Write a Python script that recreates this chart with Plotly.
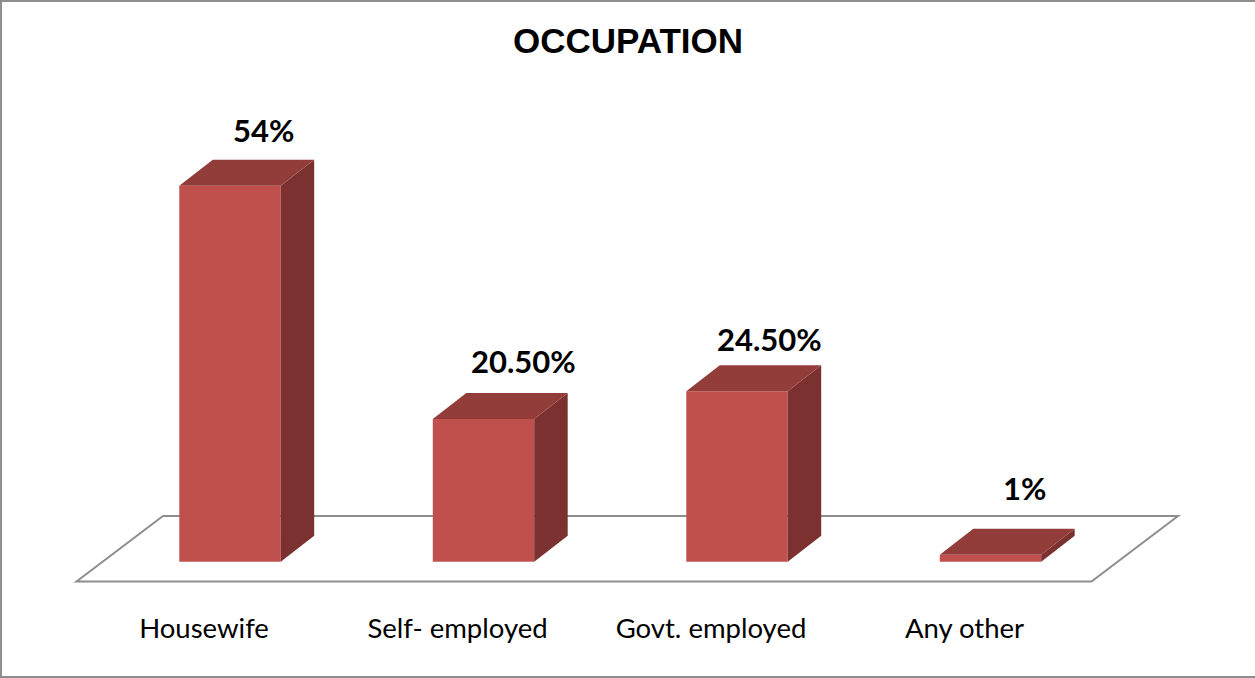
import plotly.graph_objects as go

categories = ["Housewife", "Self- employed", "Govt. employed", "Any other"]
values = [54, 20.5, 24.5, 1]
value_labels = ["54%", "20.50%", "24.50%", "1%"]

W, H = 1255, 678
BOTTOM_MARGIN = 69
PX_PER_CAT = 253.5
PX_PER_PCT = 6.96
X0_PX, Y0_PX = 230.0, 561.7


def xu(px):
    return (px - X0_PX) / PX_PER_CAT


def yu(px):
    return (Y0_PX - px) / PX_PER_PCT


BAR_WIDTH = 0.4
DX = 33.5 / PX_PER_CAT
DY = 26 / PX_PER_PCT
TICK_OFFSET = 26 / PX_PER_CAT
FRONT = "#C0504D"
SIDE = "#7B3130"
TOP = "#933D3B"
GREY = "#8E8E8E"

positions = list(range(len(categories)))
fig = go.Figure()

fig.add_trace(go.Bar(x=positions, y=values, width=BAR_WIDTH,
                     marker=dict(color=FRONT, line=dict(width=0)),
                     hoverinfo="skip", showlegend=False))

for p, v in zip(positions, values):
    l, r = p - BAR_WIDTH / 2, p + BAR_WIDTH / 2
    fig.add_trace(go.Scatter(x=[r, r + DX, r + DX, r, r], y=[0, DY, v + DY, v, 0],
                             mode="lines", fill="toself", fillcolor=SIDE,
                             line=dict(width=0, color=SIDE), hoverinfo="skip", showlegend=False))
    fig.add_trace(go.Scatter(x=[l, l + DX, r + DX, r, l], y=[v, v + DY, v + DY, v, v],
                             mode="lines", fill="toself", fillcolor=TOP,
                             line=dict(width=0, color=TOP), hoverinfo="skip", showlegend=False))

label_xshift = [33, 40, 32, 34]
label_yshift = [56, 58, 52, 67]
annotations = [
    dict(x=p, y=v, xref="x", yref="y", text=t, showarrow=False, xanchor="center", yanchor="middle",
         xshift=sx, yshift=sy, font=dict(family="Lato", size=31, color="#000000", weight="bold"))
    for p, v, t, sx, sy in zip(positions, values, value_labels, label_xshift, label_yshift)
]

floor_x = [xu(76.5), xu(163), xu(1178), xu(1091.5), xu(76.5)]
floor_y = [yu(581.5), yu(516), yu(516), yu(581.5), yu(581.5)]
floor_path = "M " + " L ".join(f"{a},{b}" for a, b in zip(floor_x[:-1], floor_y[:-1])) + " Z"

plot_h = H - BOTTOM_MARGIN
frame_bottom = -(BOTTOM_MARGIN - 1) / plot_h
shapes = [
    dict(type="path", path=floor_path, xref="x", yref="y", layer="below",
         line=dict(color=GREY, width=2), fillcolor="#FFFFFF"),
    dict(type="line", xref="paper", yref="paper", x0=1 / W, x1=1 / W, y0=frame_bottom, y1=1 - 1 / plot_h,
         line=dict(color=GREY, width=2)),
    dict(type="line", xref="paper", yref="paper", x0=0, x1=1, y0=1 - 1 / plot_h, y1=1 - 1 / plot_h,
         line=dict(color=GREY, width=2)),
    dict(type="line", xref="paper", yref="paper", x0=0, x1=1, y0=frame_bottom, y1=frame_bottom,
         line=dict(color=GREY, width=2)),
]

fig.update_layout(
    width=W, height=H,
    margin=dict(l=0, r=0, t=0, b=BOTTOM_MARGIN),
    paper_bgcolor="#FFFFFF", plot_bgcolor="rgba(0,0,0,0)",
    showlegend=False,
    title=dict(text="<b>OCCUPATION</b>", x=628 / W, xanchor="center", y=1 - 41 / H, yanchor="middle",
               font=dict(family="Liberation Sans", size=35, color="#000000")),
    xaxis=dict(range=[xu(0), xu(W)], tickmode="array", tickvals=[p - TICK_OFFSET for p in positions],
               ticktext=categories, showgrid=False, zeroline=False, showline=False, ticks="",
               tickfont=dict(family="Lato", size=27.5, color="#000000"), fixedrange=True),
    yaxis=dict(range=[yu(plot_h), yu(0)], visible=False, fixedrange=True),
    shapes=shapes,
    annotations=annotations,
)

fig.write_html("out.html", config={"displayModeBar": False},
               post_script="document.body.style.margin='0';document.body.style.overflow='hidden';")
